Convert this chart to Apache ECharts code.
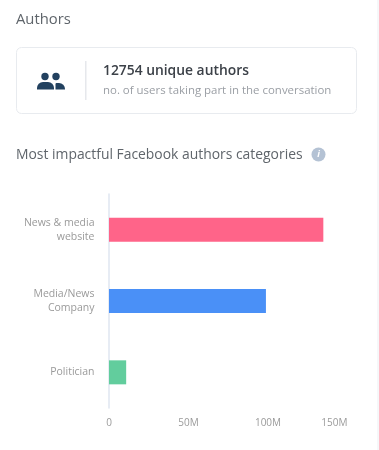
<!DOCTYPE html>
<html><head><meta charset="utf-8">
<style>html,body{margin:0;padding:0;background:#fff;overflow:hidden}#c{width:379px;height:450px}</style>
<script src="https://cdn.jsdelivr.net/npm/echarts@6/dist/echarts.min.js"></script></head>
<body><div id="c"></div>
<script>
const categories = ['News & media\nwebsite', 'Media/News\nCompany', 'Politician'];
const values = [134.8, 98.7, 10.8];
const barColors = ['#ff6489', '#4a90f7', '#62cd9d'];
const tickInterval = 50;
const axisMax = 150;
const font = '"Open Sans", sans-serif';
const chart = echarts.init(document.getElementById('c'), null, {renderer:'canvas'});
chart.setOption({
  animation:false,
  backgroundColor:'#fff',
  grid:{left:109,right:31.5,top:194,height:214,containLabel:false},
  xAxis:{type:'value',min:0,max:axisMax,interval:tickInterval,
    axisLine:{show:false},axisTick:{show:false},splitLine:{show:false},
    axisLabel:{color:'#9a9a9a',fontFamily:font,fontSize:10,margin:10,alignMaxLabel:'right',
      formatter:v=>v===0?'0':v+'M'}},
  yAxis:{type:'category',inverse:true,data:categories,
    axisLine:{show:true,lineStyle:{color:'#dfe6f0',width:1.5}},axisTick:{show:false},
    axisLabel:{color:'#9a9a9a',fontFamily:font,fontSize:10.5,margin:14.5,align:'right',lineHeight:14}},
  series:[{type:'bar',barWidth:24,data:values.map((v,i)=>({value:v,itemStyle:{color:barColors[i]}}))}],
  graphic:[
    {type:'rect',silent:true,shape:{x:377,y:0,width:2,height:450},style:{fill:'#f6f7f9'}},
    {type:'text',style:{x:16,y:20,text:'Authors',fill:'#5f656b',font:'14.8px '+font,textVerticalAlign:'middle'}},
    {type:'rect',shape:{x:16.5,y:47.5,width:340,height:66,r:5},style:{fill:'#fff',stroke:'#e8ebef',lineWidth:1}},
    {type:'circle',shape:{cx:45,cy:76.5,r:3.7},style:{fill:'#22415f'}},
    {type:'circle',shape:{cx:56,cy:76.5,r:3.7},style:{fill:'#22415f'}},
    {type:'rect',shape:{x:37,y:82,width:17,height:7.5,r:[6,6,0,0]},style:{fill:'#22415f'}},
    {type:'rect',shape:{x:55.5,y:83,width:9.5,height:6.5,r:[1,6,0,0]},style:{fill:'#22415f'}},
    {type:'rect',shape:{x:85,y:61,width:1.5,height:39},style:{fill:'#e6e8ec'}},
    {type:'text',style:{x:103,y:71,text:'12754 unique authors',fill:'#3c4148',font:'600 13.85px '+font,textVerticalAlign:'middle'}},
    {type:'text',style:{x:103,y:90.5,text:'no. of users taking part in the conversation',fill:'#9a9ea4',font:'11.45px '+font,textVerticalAlign:'middle'}},
    {type:'text',style:{x:16,y:155,text:'Most impactful Facebook authors categories',fill:'#5f656b',font:'13.9px '+font,textVerticalAlign:'middle'}},
    {type:'circle',shape:{cx:318.5,cy:154.5,r:7},style:{fill:'#b4c2d4'}},
    {type:'text',style:{x:318.5,y:154.5,text:'i',fill:'#fff',font:'italic bold 9px '+font,textAlign:'center',textVerticalAlign:'middle'}}
  ]
});
</script></body></html>
